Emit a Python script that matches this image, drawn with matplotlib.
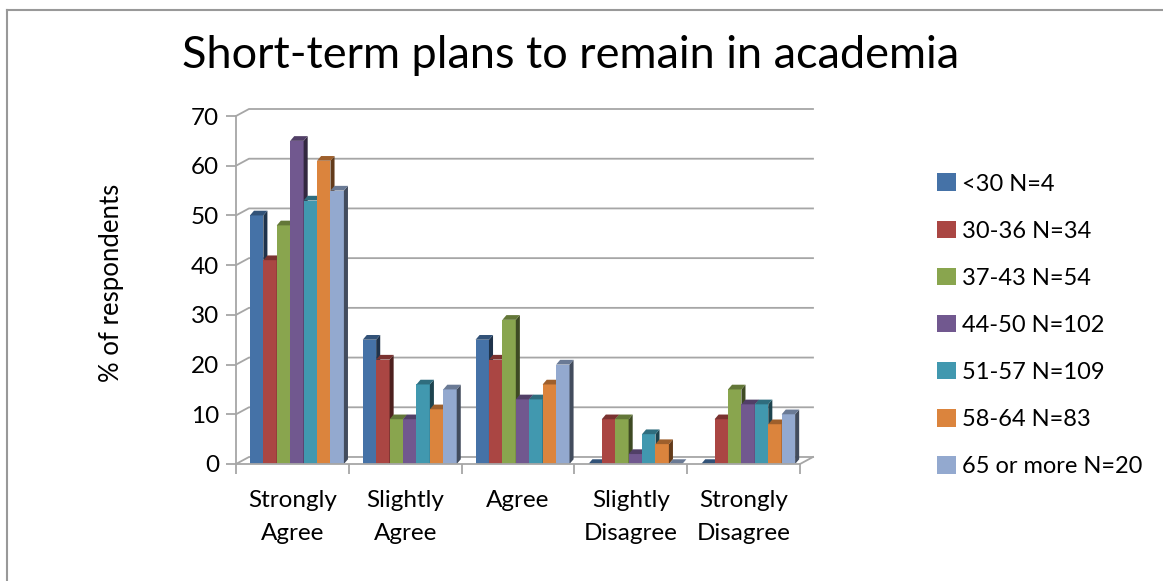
import matplotlib
matplotlib.use("Agg")
import matplotlib.pyplot as plt
from matplotlib.patches import Polygon, Patch
from matplotlib.lines import Line2D
import matplotlib.colors as mcolors
import numpy as np

plt.rcParams['font.family'] = ['Lato', 'DejaVu Sans']

categories = ["Strongly\nAgree", "Slightly\nAgree", "Agree", "Slightly\nDisagree", "Strongly\nDisagree"]
series_names = ["<30 N=4", "30-36 N=34", "37-43 N=54", "44-50 N=102", "51-57 N=109", "58-64 N=83", "65 or more N=20"]
lt30 = [50, 25, 25, 0, 0]
a30_36 = [41, 21, 21, 9, 9]
a37_43 = [48, 9, 29, 9, 15]
a44_50 = [65, 9, 13, 2, 12]
a51_57 = [53, 16, 13, 6, 12]
a58_64 = [61, 11, 16, 4, 8]
a65plus = [55, 15, 20, 0, 10]
series = [lt30, a30_36, a37_43, a44_50, a51_57, a58_64, a65plus]
colors = ["#4572A7", "#AA4643", "#89A54E", "#71588F", "#4198AF", "#DB843D", "#93A9CF"]

W, H = 1163, 581
fig = plt.figure(figsize=(W / 100, H / 100), dpi=100)

# outer chart border
fig.add_artist(Line2D([7 / W, 7 / W], [0, 1 - 10 / H], color="#999999", lw=1.5))
fig.add_artist(Line2D([7 / W, 1], [1 - 10 / H, 1 - 10 / H], color="#999999", lw=1.5))

ymax = 70
dxw, dyw = 0.115, 1.41          # back wall depth offset (data units)
xleft, xright = -0.5, len(categories) - 0.5
ax = fig.add_axes([236 / W, 117 / H, 577 / W, 355 / H])
ax.set_xlim(xleft, xright + dxw)
ax.set_ylim(0, ymax + dyw)
ax.set_facecolor("none")

grid_c = "#A6A6A6"
for v in range(0, ymax + 1, 10):
    ax.plot([xleft, xleft + dxw, xright + dxw], [v, v + dyw, v + dyw],
            color=grid_c, lw=1.3, zorder=1, clip_on=False)
# floor right edge
ax.plot([xright, xright + dxw], [0, dyw], color=grid_c, lw=1.3, zorder=1, clip_on=False)

# bars with pseudo-3D faces
nser = len(series)
bw = 0.119
dxb, dyb = 0.036, 0.95
shift = 0.04
x = np.arange(len(categories))
for s, (vals, col) in enumerate(zip(series, colors)):
    rgb = np.array(mcolors.to_rgb(col))
    side_c = tuple(rgb * 0.45)
    top_c = tuple(rgb * 0.72)
    xs = x - nser * bw / 2 + s * bw + shift
    ax.bar(xs, vals, width=bw, align="edge", color=col, zorder=3 + s, linewidth=0)
    for xi, v in zip(xs, vals):
        ax.add_patch(Polygon([(xi + bw, 0), (xi + bw + dxb, dyb), (xi + bw + dxb, v + dyb), (xi + bw, v)],
                             closed=True, facecolor=side_c, edgecolor="none", zorder=3 + s))
        ax.add_patch(Polygon([(xi, v), (xi + dxb, v + dyb), (xi + bw + dxb, v + dyb), (xi + bw, v)],
                             closed=True, facecolor=top_c, edgecolor="none", zorder=3 + s))

# axes styling
for sp in ["top", "right"]:
    ax.spines[sp].set_visible(False)
ax.spines["left"].set_bounds(0, ymax)
ax.spines["bottom"].set_bounds(xleft, xright)
for sp in ["left", "bottom"]:
    ax.spines[sp].set_color(grid_c)
    ax.spines[sp].set_linewidth(1.3)
    ax.spines[sp].set_zorder(20)

fs = 17.5
ax.set_yticks(range(0, ymax + 1, 10))
ax.tick_params(axis="y", length=7, width=1.3, color=grid_c, labelsize=fs, pad=5)
ax.set_xticks(np.arange(len(categories) + 1) - 0.5)
ax.set_xticklabels([])
ax.tick_params(axis="x", which="major", length=7, width=1.3, color=grid_c)
ax.set_xticks(x, minor=True)
ax.set_xticklabels(categories, minor=True, fontsize=fs, linespacing=1.7)
ax.tick_params(axis="x", which="minor", length=0, pad=19)

fig.text(112 / W, 1 - 283 / H, "% of respondents", rotation=90, fontsize=18.5,
         ha="center", va="center")
fig.text(571 / W, 1 - 56 / H, "Short-term plans to remain in academia", fontsize=32.5,
         ha="center", va="center")

handles = [Patch(facecolor=c, edgecolor="none") for c in colors]
fig.legend(handles, series_names, loc="upper left", bbox_to_anchor=(928 / W, 1 - 164 / H),
           frameon=False, fontsize=17, handlelength=0.78, handleheight=0.78,
           handletextpad=0.25, labelspacing=1.10, borderaxespad=0)

fig.savefig("out.png", dpi=100)
